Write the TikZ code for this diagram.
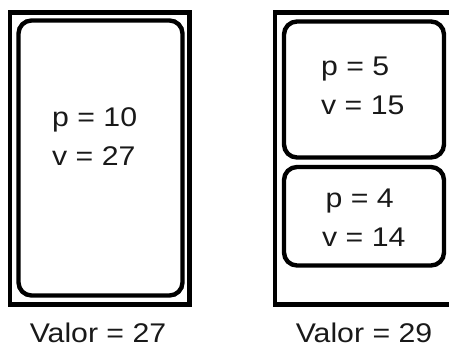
\documentclass[tikz,border=0pt]{standalone}
\usepackage{fontspec}
\setmainfont{Liberation Sans}
\usepackage{tikz}

\tikzset{
	mochila/.style={draw=black, line width=4.8pt},
	item/.style={draw=black, line width=4.4pt, rounded corners=13pt},
	rotulo/.style={font=\fontsize{27}{39}\selectfont, align=left, xscale=1.12, inner sep=0pt, text=black!90}
}

\begin{document}
\begin{tikzpicture}[x=1pt,y=-1pt]
	\useasboundingbox (0,0) rectangle (449,347);
	% solucao com um item
	\draw[mochila] (10,12.5) rectangle (189.5,304.5);
	\draw[item] (18.5,20.5) rectangle (182.5,295.5);
	\node[rotulo, anchor=base west] (itemA) at (52,166) {p = 10\\v = 27};
	\node[rotulo, anchor=base] (valorA) at (98,342) {Valor = 27};
	% solucao com dois itens
	\draw[mochila] (275,12.5) rectangle (460,304.5);
	\draw[item] (284,21.5) rectangle (444,157.5);
	\draw[item] (284,167) rectangle (444,265.5);
	\node[rotulo, anchor=base west] (itemB) at (321,115) {p = 5\\v = 15};
	\node[rotulo, anchor=base west] (itemC) at (322,246) {\hspace{3pt}p = 4\\v = 14};
	\node[rotulo, anchor=base] (valorB) at (364,342) {Valor = 29};
\end{tikzpicture}
\end{document}
